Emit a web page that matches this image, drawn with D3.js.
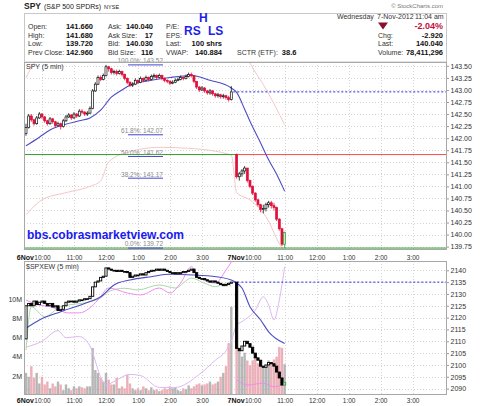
<!DOCTYPE html>
<html>
<head>
<meta charset="utf-8">
<script src="https://cdn.jsdelivr.net/npm/d3@7"></script>
<style>
  body { margin: 0; background: #fff; }
  text { font-family: Arial, "Liberation Sans", sans-serif; }
</style>
</head>
<body>
<script>
var width = 480, height = 406;
var plot = { left: 24, right: 447 },
  top1 = 62, bottom1 = 250,
  top2 = 261, bottom2 = 395;

// sessions and time axis
var sessionDays = ["6Nov", "7Nov"];
var hourLabels = ["10:00", "11:00", "12:00", "1:00", "2:00", "3:00"];
var hourBars = [6, 18, 30, 42, 54, 66]; // 5-min bar number inside a session
var barsPerSession = 78;

// SPY 5-min bars (6 Nov full day, 7 Nov to 11:00)
var spySessionOpen = [142.10, 141.66];
var spyClose = [
  142.22, 142.46, 142.38, 142.30, 142.42, 142.50, 142.44, 142.36, 142.30, 142.40, 142.34, 142.26,
  142.30, 142.24, 142.36, 142.44, 142.48, 142.42, 142.50, 142.46, 142.56, 142.54, 142.50, 142.52,
  142.62, 142.98, 143.12, 143.26, 143.22, 143.30, 143.48, 143.44, 143.36, 143.38, 143.34, 143.38,
  143.32, 143.24, 143.16, 143.10, 143.12, 143.20, 143.16, 143.24, 143.20, 143.26, 143.22, 143.28,
  143.30, 143.26, 143.30, 143.24, 143.20, 143.18, 143.14, 143.16, 143.20, 143.22, 143.26, 143.24,
  143.28, 143.32, 143.30, 143.18, 143.06, 143.00, 143.04, 142.98, 142.94, 142.98, 142.92, 142.88,
  142.90, 142.86, 142.88, 142.84, 142.80, 142.96,
  141.20, 141.26, 141.32, 141.38, 141.12, 141.00, 140.86, 140.72, 140.62, 140.52, 140.54, 140.62,
  140.66, 140.60, 140.56, 140.32, 140.12, 139.80, 140.04
];
var spyHigh = [
  142.30, 142.50, 142.50, 142.40, 142.46, 142.54, 142.52, 142.46, 142.38, 142.44, 142.42, 142.36,
  142.34, 142.32, 142.40, 142.48, 142.52, 142.50, 142.54, 142.52, 142.60, 142.60, 142.56, 142.56,
  142.66, 143.02, 143.16, 143.30, 143.30, 143.34, 143.52, 143.50, 143.46, 143.42, 143.42, 143.42,
  143.40, 143.34, 143.26, 143.18, 143.16, 143.24, 143.22, 143.28, 143.26, 143.30, 143.28, 143.32,
  143.34, 143.32, 143.34, 143.32, 143.26, 143.22, 143.20, 143.20, 143.24, 143.26, 143.30, 143.28,
  143.32, 143.36, 143.36, 143.30, 143.18, 143.08, 143.08, 143.06, 143.00, 143.02, 143.00, 142.94,
  142.94, 142.92, 142.92, 142.90, 142.88, 143.08,
  141.68, 141.30, 141.36, 141.42, 141.38, 141.14, 141.02, 140.88, 140.74, 140.64, 140.62, 140.66,
  140.70, 140.70, 140.66, 140.58, 140.34, 140.14, 140.06
];
var spyLow = [
  142.05, 142.20, 142.34, 142.26, 142.28, 142.40, 142.40, 142.32, 142.26, 142.28, 142.30, 142.22,
  142.24, 142.18, 142.22, 142.34, 142.42, 142.38, 142.40, 142.42, 142.44, 142.50, 142.46, 142.46,
  142.50, 142.60, 142.96, 143.10, 143.18, 143.20, 143.28, 143.38, 143.32, 143.32, 143.30, 143.32,
  143.28, 143.20, 143.12, 143.06, 143.06, 143.10, 143.12, 143.14, 143.16, 143.18, 143.18, 143.20,
  143.24, 143.22, 143.24, 143.20, 143.16, 143.14, 143.10, 143.12, 143.14, 143.18, 143.20, 143.20,
  143.22, 143.26, 143.26, 143.14, 143.02, 142.96, 142.98, 142.94, 142.90, 142.90, 142.88, 142.84,
  142.84, 142.82, 142.82, 142.80, 142.76, 142.78,
  141.16, 141.12, 141.20, 141.26, 141.08, 140.96, 140.82, 140.68, 140.58, 140.46, 140.44, 140.48,
  140.56, 140.54, 140.50, 140.28, 140.08, 139.76, 139.72
];

// SPY overlays: [bar, value]
var spyAverage = [[0, 141.84], [5, 142.02], [9, 142.17], [13, 142.26], [20, 142.36], [24, 142.42],
  [28, 142.58], [32, 142.85], [36, 143.0], [39, 143.1], [47, 143.2], [54, 143.26], [62, 143.3],
  [69, 143.2], [77, 143.04], [78, 142.95], [81, 142.6], [83, 142.35], [87, 141.9], [90, 141.55],
  [93, 141.25], [96, 140.9]];
var spyUpperBand = [[0, 143.25], [3, 143.55], [10, 143.8], [30, 144.2], [50, 144.0], [77, 143.9],
  [80, 143.9], [83, 143.56], [89, 143.02], [96, 142.28]];
var spyLowerBand = [[0, 140.41], [6, 140.72], [15, 140.87], [24, 141.0], [28, 141.11], [31, 141.51],
  [39, 141.72], [50, 141.81], [61, 141.79], [77, 141.65], [78, 140.87], [83, 140.72], [89, 140.37],
  [95, 139.72], [96, 139.65]];
var spyPrevClose = 142.96, spyTodayOpen = 141.66, spyTodayLow = 139.72;

// Fibonacci retracement labels
var fibPct = ["100.0%", "61.8%", "50.0%", "38.2%", "0.0%"];
var fibValue = [143.52, 142.07, 141.62, 141.17, 139.72];

// $SPXEW 5-min bars
var spxSessionOpen = [2111.0, 2135.0];
var spxClose = [
  2125.0, 2126.0, 2125.0, 2127.0, 2125.5, 2126.5, 2127.0, 2126.0, 2125.0, 2126.0, 2124.5, 2125.0,
  2123.0, 2123.5, 2125.0, 2126.5, 2127.0, 2127.0, 2126.5, 2127.0, 2127.5, 2127.5, 2128.0, 2128.0,
  2129.0, 2133.0, 2135.0, 2135.5, 2137.0, 2137.5, 2141.0, 2140.5, 2140.0, 2140.0, 2139.5, 2140.0,
  2139.5, 2139.5, 2139.0, 2137.0, 2137.5, 2138.0, 2138.0, 2138.5, 2138.0, 2139.0, 2139.5, 2140.0,
  2140.0, 2140.5, 2140.0, 2140.5, 2140.0, 2139.5, 2139.0, 2139.0, 2138.5, 2139.0, 2139.0, 2139.5,
  2139.5, 2140.0, 2140.5, 2139.0, 2137.0, 2136.5, 2136.5, 2136.0, 2135.5, 2135.0, 2135.5, 2135.0,
  2134.5, 2134.0, 2133.5, 2134.0, 2134.5, 2135.0,
  2107.0, 2106.0, 2108.0, 2110.0, 2109.0, 2107.5, 2105.0, 2103.0, 2102.0, 2099.5, 2099.0, 2100.0,
  2101.0, 2100.5, 2099.5, 2097.0, 2094.5, 2091.5, 2092.5
];
// volume, millions
var volume = [
  2.3, 1.9, 3.0, 1.8, 2.3, 1.2, 1.9, 1.1, 1.4, 0.7, 1.2, 0.9,
  1.4, 1.1, 0.5, 1.1, 0.7, 0.5, 0.9, 0.7, 0.9, 0.8, 0.7, 0.9,
  0.9, 4.9, 2.6, 2.3, 1.8, 1.4, 2.3, 1.6, 1.1, 1.1, 1.8, 0.7,
  0.9, 0.7, 2.1, 1.2, 0.7, 0.5, 0.7, 0.5, 0.9, 0.7, 0.5, 0.8,
  0.5, 0.6, 0.4, 0.5, 0.7, 0.6, 0.9, 0.7, 0.8, 0.5, 0.4, 0.7,
  0.6, 1.0, 0.7, 0.9, 1.1, 1.2, 1.0, 1.1, 1.2, 1.4, 1.1, 1.2,
  1.4, 1.9, 2.3, 3.0, 5.4, 9.2,
  5.2, 4.9, 4.0, 4.4, 3.6, 3.1, 3.6, 4.1, 3.3, 3.1, 2.9, 3.0,
  3.6, 3.2, 3.7, 4.0, 5.0, 4.9, 3.2
];
var spxAverage = [[0, 2115.5], [5, 2119], [13, 2122.5], [22, 2126], [28, 2128.8], [33, 2133.8],
  [39, 2135.9], [47, 2137.3], [54, 2138.3], [63, 2138], [69, 2137.6], [77, 2135.9], [78, 2134.6],
  [80, 2132.5], [83, 2124.6], [87, 2119], [90, 2114], [96, 2109.1]];
var spxGreen = [[0, 2106.3], [2, 2124.6], [7, 2120.4], [13, 2124.6], [24, 2126.7], [28, 2128.3],
  [31, 2131], [37, 2132.4], [42, 2131.7], [50, 2133.8], [56, 2132.5], [62, 2136.7], [67, 2134.5],
  [71, 2133.1], [75, 2134.5], [77, 2133.1]];
var spxMagenta = [[0, 2127.4], [5, 2125.3], [9, 2124.6], [16, 2122], [20, 2122], [27, 2127.4],
  [31, 2132.5], [38, 2130.4], [43, 2129.6], [50, 2132.5], [54, 2130.4], [58, 2134.6], [62, 2141.5],
  [65, 2137.3], [71, 2134.6], [75, 2140.1], [77, 2143.5]];
var spxMagenta2 = [[78, 2093.6], [82, 2091.5], [88, 2092.3], [92, 2090.8], [96, 2091.9]];
var spxLavender = [[0, 2107.5], [6, 2110], [12, 2114.5], [15, 2111.5], [20, 2112], [24, 2108],
  [28, 2095], [30, 2091.5], [33, 2093], [39, 2096], [43, 2095.5], [50, 2090.5], [56, 2090.5],
  [65, 2096], [71, 2102], [75, 2106], [77, 2110], [78, 2116.9], [80, 2118.3], [85, 2123.2],
  [88, 2128.8], [90, 2125.3], [92, 2119], [94, 2127.4], [96, 2141.5]];
var spxPrevClose = 2135.0;

var priceTicks = d3.range(16).map(function (i) { return 139.75 + i * 0.25; });
var spxTicks = [2090, 2095, 2100, 2105, 2110, 2115, 2120, 2125, 2130, 2135, 2140];
var volTicks = [2, 4, 6, 8, 10];

// quote box
var quoteLabels1 = ["Open:", "High:", "Low:", "Prev Close:"],
  quoteValues1 = ["141.660", "141.680", "139.720", "142.960"];
var quoteLabels2 = ["Ask:", "Ask Size:", "Bid:", "Bid Size:"],
  quoteValues2 = ["140.040", "17", "140.030", "116"];
var quoteLabels3 = ["P/E:", "EPS:", "Last:", "VWAP:"],
  quoteValues3 = ["", "", "100 shrs", "140.884"];

function slot(bar) {
  return bar < barsPerSession ? bar : bar + 1;
}

var x = d3.scaleLinear().domain([-0.75, 157.9]).range([plot.left, plot.right]);
var y = d3.scaleLinear().domain([139.68, 143.58]).range([bottom1, top1]);
var y2 = d3.scaleLinear().domain([2087.3, 2143.5]).range([bottom2, top2 + 1]);
var vol = d3.scaleLinear().domain([0, 13.85]).range([bottom2, top2 + 1]);

var hourSlots = [];
[0, 1].forEach(function (d) {
  hourBars.forEach(function (b, i) {
    hourSlots.push({ s: slot(d * barsPerSession + b), label: hourLabels[i] });
  });
});

var svg = d3.select("body").append("svg")
  .attr("width", width).attr("height", height)
  .style("display", "block");

svg.append("rect").attr("width", width).attr("height", height).attr("fill", "#fff");

var defs = svg.append("defs");
defs.append("clipPath").attr("id", "clip1").append("rect")
  .attr("x", plot.left).attr("y", top1).attr("width", plot.right - plot.left).attr("height", bottom1 - top1);
defs.append("clipPath").attr("id", "clip2").append("rect")
  .attr("x", plot.left).attr("y", top2).attr("width", plot.right - plot.left).attr("height", bottom2 - top2);

// ---------- header ----------
var title = svg.append("text").attr("x", 24).attr("y", 9).attr("fill", "#222");
title.append("tspan").attr("font-weight", "bold").attr("font-size", 8.5).text("SPY");
title.append("tspan").attr("font-size", 7).attr("dx", 3).text("(S&P 500 SPDRs)");
title.append("tspan").attr("font-size", 5.5).attr("dx", 3).text("NYSE");

svg.append("text").attr("x", 443).attr("y", 8).attr("text-anchor", "end")
  .attr("font-size", 6).attr("fill", "#777").text("\u00a9 StockCharts.com");

svg.append("rect").attr("x", plot.left + 0.5).attr("y", 13.5)
  .attr("width", plot.right - plot.left - 1).attr("height", top1 - 13.5)
  .attr("fill", "#fff").attr("stroke", "#c8c8c8");

var rowY = [29.2, 37.6, 46, 55];
function quoteColumn(labels, values, lx, vx) {
  labels.forEach(function (l, i) {
    svg.append("text").attr("x", lx).attr("y", rowY[i]).attr("font-size", 7)
      .attr("fill", "#333").text(l);
    svg.append("text").attr("x", vx).attr("y", rowY[i]).attr("font-size", 7.5)
      .attr("font-weight", "bold").attr("text-anchor", "end").attr("fill", "#111").text(values[i]);
  });
}
quoteColumn(quoteLabels1, quoteValues1, 28, 93);
quoteColumn(quoteLabels2, quoteValues2, 108, 153);
quoteColumn(quoteLabels3, quoteValues3, 166, 222);
var sctr = svg.append("text").attr("x", 237).attr("y", rowY[3]).attr("fill", "#333");
sctr.append("tspan").attr("font-size", 7).text("SCTR (ETF):");
sctr.append("tspan").attr("dx", 4).attr("font-size", 7.5).attr("font-weight", "bold").attr("fill", "#111").text("38.6");

svg.append("text").attr("x", 337).attr("y", 18.5).attr("font-size", 7).attr("fill", "#333").text("Wednesday");
svg.append("text").attr("x", 377).attr("y", 18.5).attr("font-size", 7).attr("fill", "#333").text("7-Nov-2012");
svg.append("text").attr("x", 415).attr("y", 18.5).attr("font-size", 7).attr("fill", "#333").text("11:04 am");
svg.append("path").attr("d", "M378,22.5 L388,22.5 L383,29.5 Z").attr("fill", "#8b1030");
svg.append("text").attr("x", 443).attr("y", 28.8).attr("font-size", 9).attr("font-weight", "bold")
  .attr("text-anchor", "end").attr("fill", "#c0103c").text("-2.04%");
[["Chg:", "-2.920"], ["Last:", "140.040"], ["Volume:", "78,411,296"]].forEach(function (r, i) {
  svg.append("text").attr("x", 378).attr("y", rowY[i + 1]).attr("font-size", 7).attr("fill", "#333").text(r[0]);
  svg.append("text").attr("x", 443).attr("y", rowY[i + 1]).attr("font-size", 7.5).attr("font-weight", "bold")
    .attr("text-anchor", "end").attr("fill", "#111").text(r[1]);
});

// RS H LS annotation
svg.append("text").attr("x", 199).attr("y", 22).attr("font-size", 12).attr("font-weight", "bold").attr("fill", "#1f1fe6").text("H");
svg.append("text").attr("x", 184).attr("y", 35).attr("font-size", 12).attr("font-weight", "bold").attr("fill", "#1f1fe6").text("RS");
svg.append("text").attr("x", 208).attr("y", 35).attr("font-size", 12).attr("font-weight", "bold").attr("fill", "#1f1fe6").text("LS");

// ---------- panels ----------
function panelGrid(yS, ticks, top, bottom) {
  var g = svg.append("g");
  g.selectAll(".hg").data(ticks).join("line")
    .attr("x1", plot.left).attr("x2", plot.right)
    .attr("y1", function (d) { return Math.round(yS(d)) + 0.5; })
    .attr("y2", function (d) { return Math.round(yS(d)) + 0.5; })
    .attr("stroke", "#d4d4d4").attr("stroke-dasharray", "1,2");
  g.selectAll(".vg").data(hourSlots).join("line")
    .attr("x1", function (d) { return Math.round(x(d.s)) + 0.5; })
    .attr("x2", function (d) { return Math.round(x(d.s)) + 0.5; })
    .attr("y1", top).attr("y2", bottom)
    .attr("stroke", "#d4d4d4").attr("stroke-dasharray", "1,2");
  return g;
}

function timeAxis(yPos, pad) {
  var ax = svg.append("g").attr("transform", "translate(0," + yPos + ")")
    .call(d3.axisBottom(x).tickValues(hourSlots.map(function (d) { return d.s; }))
      .tickFormat(function (d, i) { return hourSlots[i].label; }).tickSize(0).tickPadding(pad));
  ax.select(".domain").remove();
  ax.selectAll("text").attr("font-size", 6.5).attr("fill", "#333").attr("font-family", null);
  sessionDays.forEach(function (d, i) {
    svg.append("text").attr("x", x(slot(i * barsPerSession)) + 8).attr("y", yPos + pad + 4.8)
      .attr("text-anchor", "end").attr("font-size", 7).attr("font-weight", "bold").attr("fill", "#111").text(d);
  });
}

function overlay(g, data, yS, color, w, dash) {
  g.append("path").datum(data)
    .attr("d", d3.line()
      .x(function (d) { return x(slot(d[0])); })
      .y(function (d) { return yS(d[1]); })
      .curve(d3.curveMonotoneX))
    .attr("fill", "none").attr("stroke", color).attr("stroke-width", w || 1)
    .attr("stroke-dasharray", dash || null);
}

// ===== main SPY panel =====
panelGrid(y, priceTicks, top1, bottom1);
var main = svg.append("g").attr("clip-path", "url(#clip1)");

overlay(main, spyUpperBand, y, "#f5c8c8", 1);
overlay(main, spyLowerBand, y, "#f5c8c8", 1);

// horizontal reference lines
main.append("line").attr("x1", plot.left).attr("x2", x(slot(barsPerSession)) - 1.5)
  .attr("y1", y(spyTodayOpen)).attr("y2", y(spyTodayOpen)).attr("stroke", "#2ea02e");
main.append("line").attr("x1", x(slot(barsPerSession)) - 1.5).attr("x2", plot.right)
  .attr("y1", y(spyTodayOpen)).attr("y2", y(spyTodayOpen)).attr("stroke", "#ff4a4a");
main.append("line").attr("x1", plot.left).attr("x2", plot.right)
  .attr("y1", y(spyTodayLow)).attr("y2", y(spyTodayLow)).attr("stroke", "#2ea02e");
main.append("line").attr("x1", x(barsPerSession - 1) + 2).attr("x2", plot.right)
  .attr("y1", y(spyPrevClose)).attr("y2", y(spyPrevClose))
  .attr("stroke", "#2a2ae8").attr("stroke-dasharray", "2,2");

overlay(main, spyAverage, y, "#4c4cc4", 1.1);

var spyBars = spyClose.map(function (c, i) {
  var o = i === 0 ? spySessionOpen[0] : i === barsPerSession ? spySessionOpen[1] : spyClose[i - 1];
  return { bar: i, o: o, h: spyHigh[i], l: spyLow[i], c: c, prev: i ? spyClose[i - 1] : o };
});

function candleColor(d, last, down, up) {
  if (d.bar === last) return "#3a9a3a";
  return d.c < d.prev ? down : up;
}
var lastBar = spyClose.length - 1;
var cg = main.append("g");
cg.selectAll("line").data(spyBars).join("line")
  .attr("x1", function (d) { return x(slot(d.bar)); })
  .attr("x2", function (d) { return x(slot(d.bar)); })
  .attr("y1", function (d) { return y(d.h); })
  .attr("y2", function (d) { return y(d.l); })
  .attr("stroke", function (d) { return candleColor(d, lastBar, "#e0103c", "#111"); })
  .attr("stroke-width", 0.8);
cg.selectAll("rect").data(spyBars).join("rect")
  .attr("x", function (d) { return x(slot(d.bar)) - 1; })
  .attr("width", 2)
  .attr("y", function (d) { return y(Math.max(d.o, d.c)); })
  .attr("height", function (d) { return Math.max(0.6, Math.abs(y(d.o) - y(d.c))); })
  .attr("fill", function (d) {
    if (d.bar === lastBar) return "#bff0bf";
    return d.c < d.o ? candleColor(d, lastBar, "#e0103c", "#111") : "#fff";
  })
  .attr("stroke", function (d) { return candleColor(d, lastBar, "#e0103c", "#111"); })
  .attr("stroke-width", 0.7);

// fib levels
fibValue.forEach(function (v, i) {
  svg.append("line").attr("x1", 128).attr("x2", 163).attr("y1", y(v)).attr("y2", y(v))
    .attr("stroke", "#4646d2").attr("stroke-width", 1);
  svg.append("text").attr("x", 163).attr("y", y(v) - 1.6).attr("text-anchor", "end")
    .attr("font-size", 6.5).attr("fill", "#8a8a8a").text(fibPct[i] + ": " + v.toFixed(2));
});

svg.append("text").attr("x", 27).attr("y", 239).attr("font-size", 12).attr("font-weight", "bold")
  .attr("fill", "#1a1aee").text("bbs.cobrasmarketview.com");
svg.append("text").attr("x", 26).attr("y", 69).attr("font-size", 7).attr("fill", "#333").text("SPY (5 min)");

svg.append("rect").attr("x", plot.left + 0.5).attr("y", top1 + 0.5)
  .attr("width", plot.right - plot.left - 1).attr("height", bottom1 - top1 - 1)
  .attr("fill", "none").attr("stroke", "#a8a8a8");

var ay = svg.append("g").attr("transform", "translate(" + plot.right + ",0)")
  .call(d3.axisRight(y).tickValues(priceTicks).tickFormat(d3.format(".2f")).tickSize(2).tickPadding(1.5));
ay.select(".domain").remove();
ay.selectAll("line").attr("stroke", "#999");
ay.selectAll("text").attr("font-size", 7).attr("fill", "#333").attr("font-family", null);

timeAxis(bottom1, 5);

// ===== lower $SPXEW panel =====
panelGrid(y2, spxTicks, top2, bottom2);
var low = svg.append("g").attr("clip-path", "url(#clip2)");

low.selectAll("rect.vol").data(volume).join("rect").attr("class", "vol")
  .attr("x", function (d, i) { return x(slot(i)) - 1.2; })
  .attr("width", 2.4)
  .attr("y", function (d) { return vol(d); })
  .attr("height", function (d) { return bottom2 - vol(d); })
  .attr("fill", function (d, i) {
    var prev = i ? spyClose[i - 1] : spySessionOpen[0];
    return spyClose[i] < prev ? "#e8a2ac" : "#a9a9a9";
  })
  .attr("fill-opacity", 0.85);

overlay(low, spxLavender, y2, "#dcb8f4", 1);
overlay(low, spxGreen, y2, "#a8d8a8", 1);
overlay(low, spxMagenta, y2, "#f08cf0", 1);
overlay(low, spxMagenta2, y2, "#f08cf0", 1);
low.append("line").attr("x1", x(barsPerSession - 1) + 2).attr("x2", plot.right)
  .attr("y1", y2(spxPrevClose)).attr("y2", y2(spxPrevClose))
  .attr("stroke", "#2a2ae8").attr("stroke-dasharray", "2,2");
overlay(low, spxAverage, y2, "#4c4cc4", 1.1);

var spxBars = spxClose.map(function (c, i) {
  var o = i === 0 ? spxSessionOpen[0] : i === barsPerSession ? spxSessionOpen[1] : spxClose[i - 1];
  return { bar: i, o: o, c: c, prev: o };
});
low.selectAll("rect.spx").data(spxBars).join("rect").attr("class", "spx")
  .attr("x", function (d) { return x(slot(d.bar)) - 1.1; })
  .attr("width", 2.2)
  .attr("y", function (d) { return y2(Math.max(d.o, d.c)); })
  .attr("height", function (d) { return Math.max(0.8, Math.abs(y2(d.o) - y2(d.c))); })
  .attr("fill", function (d) {
    if (d.bar === lastBar) return "#bff0bf";
    return d.c < d.o ? "#000" : "#fff";
  })
  .attr("stroke", function (d) { return d.bar === lastBar ? "#3a9a3a" : "#000"; })
  .attr("stroke-width", 0.9);

svg.append("text").attr("x", 26).attr("y", 268.5).attr("font-size", 7).attr("fill", "#333").text("$SPXEW (5 min)");

svg.append("rect").attr("x", plot.left + 0.5).attr("y", top2 + 0.5)
  .attr("width", plot.right - plot.left - 1).attr("height", bottom2 - top2 - 1)
  .attr("fill", "none").attr("stroke", "#a8a8a8");

var ay2 = svg.append("g").attr("transform", "translate(" + plot.right + ",0)")
  .call(d3.axisRight(y2).tickValues(spxTicks).tickFormat(d3.format("d")).tickSize(2).tickPadding(1.5));
ay2.select(".domain").remove();
ay2.selectAll("line").attr("stroke", "#999");
ay2.selectAll("text").attr("font-size", 7).attr("fill", "#333").attr("font-family", null);

var av = svg.append("g").attr("transform", "translate(" + plot.left + ",0)")
  .call(d3.axisLeft(vol).tickValues(volTicks).tickFormat(function (d) { return d + "M"; }).tickSize(0).tickPadding(2));
av.select(".domain").remove();
av.selectAll("text").attr("font-size", 7).attr("fill", "#333").attr("font-family", null);

timeAxis(bottom2, 3.5);
</script>
</body>
</html>
